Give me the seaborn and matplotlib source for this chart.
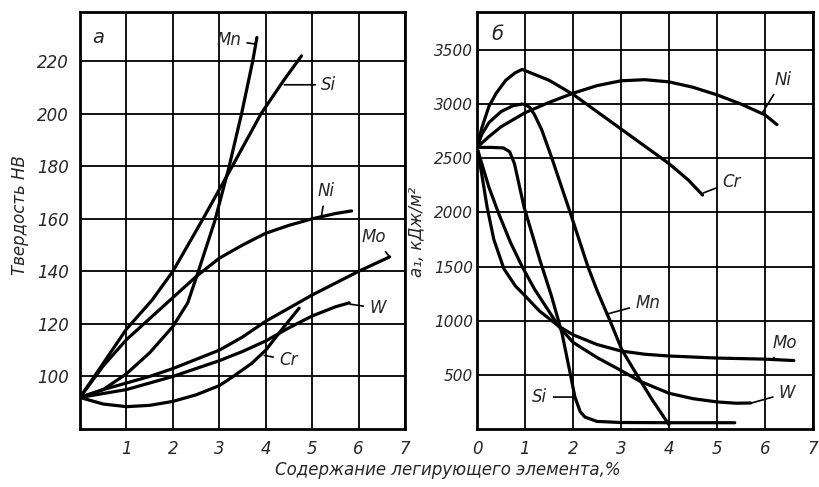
import matplotlib
matplotlib.use("Agg")
import matplotlib.pyplot as plt
import numpy as np
import pandas as pd
import seaborn as sns

# --- а: твердость HB ---
mn_hb_x = [0, 0.5, 1.0, 1.5, 2.0, 2.32, 2.53, 2.9, 3.2, 3.48, 3.72, 3.81]
mn_hb_y = [92, 95, 101, 109, 119, 128, 139, 159, 179, 200, 220, 229]
si_hb_x = [0, 0.5, 1.0, 1.55, 2.0, 2.65, 3.28, 3.9, 4.4, 4.77]
si_hb_y = [92, 105, 118, 129, 140, 160, 180, 200, 213, 222]
ni_hb_x = [0, 0.5, 1.0, 1.5, 2.0, 2.5, 3.0, 3.5, 4.0, 4.5, 5.0, 5.5, 5.85]
ni_hb_y = [92, 104, 114, 122, 130, 138, 145, 150, 154.5, 157.5, 160, 162, 163]
mo_hb_x = [0, 0.5, 1, 1.5, 2, 2.5, 3, 3.5, 4, 4.5, 5, 5.5, 6, 6.67]
mo_hb_y = [92, 95, 97.5, 100, 103, 106.5, 110, 115, 121, 126, 131, 135.5, 140, 145.5]
w_hb_x = [0, 0.5, 1, 1.5, 2, 2.5, 3, 3.5, 4, 4.5, 5, 5.5, 5.8]
w_hb_y = [92, 93.5, 95, 97.5, 100, 103, 106, 109.5, 113.5, 118.5, 123, 126.5, 128]
cr_hb_x = [0, 0.5, 1, 1.5, 2, 2.5, 3, 3.3, 3.7, 4, 4.4, 4.72]
cr_hb_y = [92, 89.5, 88.5, 89, 90.5, 93, 96.5, 100, 105, 110, 119, 126]

# --- б: ударная вязкость, кДж/м2 ---
ni_a_x = [0, 0.25, 0.5, 1, 1.5, 2, 2.5, 3, 3.5, 4, 4.5, 5, 5.5, 6, 6.25]
ni_a_y = [2600, 2700, 2790, 2920, 3015, 3100, 3170, 3215, 3225, 3205, 3155, 3085, 3000, 2900, 2810]
cr_a_x = [0, 0.1, 0.25, 0.4, 0.6, 0.8, 0.94, 1.5, 2, 2.5, 3, 3.5, 4, 4.4, 4.7]
cr_a_y = [2600, 2780, 2980, 3100, 3220, 3290, 3320, 3220, 3090, 2930, 2770, 2610, 2450, 2300, 2160]
mn_a_x = [0, 0.1, 0.25, 0.5, 0.75, 0.94, 1.0, 1.1, 1.2, 1.35, 1.56, 1.94, 2.31, 2.5, 2.77, 3.02, 3.33, 3.65, 4.0]
mn_a_y = [2600, 2720, 2830, 2930, 2985, 3000, 2995, 2970, 2900, 2760, 2500, 2000, 1500, 1280, 1000, 730, 500, 270, 40]
si_a_x = [0, 0.3, 0.55, 0.68, 0.78, 0.98, 1.31, 1.55, 1.77, 1.94, 2.04, 2.15, 2.25, 2.5, 3.0, 4.0, 5.37]
si_a_y = [2600, 2600, 2595, 2560, 2450, 2050, 1560, 1230, 886, 517, 295, 160, 110, 70, 60, 58, 58]
mo_a_x = [0, 0.1, 0.21, 0.35, 0.56, 0.8, 1.0, 1.3, 1.7, 2, 2.5, 3, 3.5, 4, 5, 6, 6.6]
mo_a_y = [2600, 2350, 2050, 1750, 1480, 1320, 1230, 1090, 950, 870, 780, 720, 690, 674, 655, 645, 632]
w_a_x = [0, 0.1, 0.25, 0.46, 0.7, 0.94, 1.2, 1.45, 1.7, 2, 2.5, 3, 3.4, 4, 4.5, 5, 5.4, 5.7]
w_a_y = [2600, 2450, 2230, 1980, 1720, 1500, 1290, 1120, 950, 800, 660, 540, 440, 330, 280, 250, 238, 240]

hb_ticks = [100, 120, 140, 160, 180, 200, 220]
a_ticks = [500, 1000, 1500, 2000, 2500, 3000, 3500]
x_ticks = [0, 1, 2, 3, 4, 5, 6, 7]

sns.set_style("white")
plt.rcParams["font.family"] = ["DejaVu Sans"]
plt.rcParams["font.style"] = "italic"

fig = plt.figure(figsize=(8.19, 4.87), dpi=100)
ax1 = fig.add_axes([80 / 819, 1 - 429 / 487, 325 / 819, 417 / 487])
ax2 = fig.add_axes([477 / 819, 1 - 429 / 487, 336 / 819, 417 / 487])

curve_kw = dict(color="black", linewidth=2.3, sort=False, estimator=None, legend=False)

for xs, ys in [(mn_hb_x, mn_hb_y), (si_hb_x, si_hb_y), (ni_hb_x, ni_hb_y),
               (mo_hb_x, mo_hb_y), (w_hb_x, w_hb_y), (cr_hb_x, cr_hb_y)]:
    sns.lineplot(x=xs, y=ys, ax=ax1, **curve_kw)

for xs, ys in [(ni_a_x, ni_a_y), (cr_a_x, cr_a_y), (mn_a_x, mn_a_y),
               (si_a_x, si_a_y), (mo_a_x, mo_a_y), (w_a_x, w_a_y)]:
    sns.lineplot(x=xs, y=ys, ax=ax2, **curve_kw)

for ax in (ax1, ax2):
    ax.set_xlim(0, 7)
    ax.set_xticks(x_ticks)
    ax.grid(True, color="black", linewidth=1.3)
    ax.set_axisbelow(True)
    ax.tick_params(length=0, labelsize=12, pad=8)
    for sp in ax.spines.values():
        sp.set_visible(True)
        sp.set_color("black")
        sp.set_linewidth(2)
    ax.set_xlabel("")
    ax.set_ylabel("")

ax1.set_ylim(80, 238.7)
ax1.set_yticks(hb_ticks)
ax1.set_xticklabels([""] + [str(t) for t in x_ticks[1:]])
ax2.set_ylim(0, 3850)
ax2.set_yticks(a_ticks)
ax2.set_xticklabels([str(t) for t in x_ticks])
ax2.tick_params(axis="y", pad=3, labelsize=11)

lab = dict(fontsize=12, ha="center", va="center")
line = dict(arrowstyle="-", color="black", lw=1.2, shrinkA=2, shrinkB=0)

ax1.annotate("Mn", xy=(3.78, 226.5), xytext=(3.2, 228), arrowprops=line, **lab)
ax1.annotate("Si", xy=(4.4, 211), xytext=(5.36, 211), arrowprops=line, **lab)
ax1.annotate("Ni", xy=(5.2, 161), xytext=(5.29, 170.5), arrowprops=line, **lab)
ax1.annotate("Mo", xy=(6.67, 145.5), xytext=(6.33, 153), arrowprops=line, **lab)
ax1.annotate("W", xy=(5.82, 127.5), xytext=(6.41, 126), arrowprops=line, **lab)
ax1.annotate("Cr", xy=(3.97, 108), xytext=(4.49, 106.3), arrowprops=line, **lab)
ax1.text(0.39, 229, "а", fontsize=14, ha="center", va="center")

ax2.annotate("Ni", xy=(5.94, 2915), xytext=(6.37, 3223), arrowprops=line, **lab)
ax2.annotate("Cr", xy=(4.72, 2180), xytext=(5.31, 2281), arrowprops=line, **lab)
ax2.annotate("Mn", xy=(2.7, 1060), xytext=(3.56, 1164), arrowprops=line, **lab)
ax2.annotate("Mo", xy=(6.17, 650), xytext=(6.42, 794), arrowprops=line, **lab)
ax2.annotate("W", xy=(5.72, 240), xytext=(6.46, 332), arrowprops=line, **lab)
ax2.annotate("Si", xy=(2.04, 295), xytext=(1.31, 295), arrowprops=line, **lab)
ax2.text(0.42, 3640, "б", fontsize=14, ha="center", va="center")

fig.text(20 / 819, 1 - 215 / 487, "Твердость НВ", rotation=90, fontsize=12,
         ha="center", va="center")
fig.text(416 / 819, 1 - 232 / 487, "a₁, кДж/м²", rotation=90, fontsize=12,
         ha="center", va="center")
fig.text(448 / 819, 1 - 470 / 487, "Содержание легирующего элемента,%", fontsize=12,
         ha="center", va="center")

fig.savefig("out.png", dpi=100, facecolor="white")
